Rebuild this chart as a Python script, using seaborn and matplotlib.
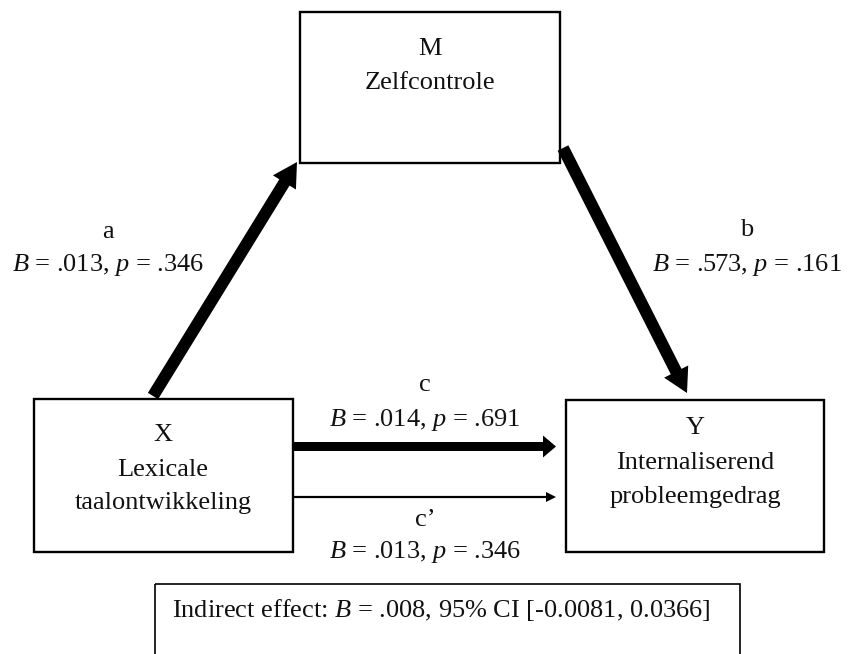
import matplotlib
matplotlib.use("Agg")
import matplotlib.pyplot as plt
import seaborn as sns
from matplotlib.patches import Rectangle, FancyArrow

# ---- data ----
node_keys = ["M", "X", "Y"]
node_names = [["Zelfcontrole"],
              ["Lexicale", "taalontwikkeling"],
              ["Internaliserend", "probleemgedrag"]]
path_labels = ["a", "b", "c", "c\u2019"]
path_B = [".013", ".573", ".014", ".013"]
path_p = [".346", ".161", ".691", ".346"]
indirect_B = ".008"
indirect_ci = ["-0.0081", "0.0366"]

sns.set_theme(style="white")
plt.rcParams["font.family"] = ["Liberation Serif", "DejaVu Serif"]
plt.rcParams["mathtext.fontset"] = "custom"
plt.rcParams["mathtext.rm"] = "Liberation Serif"
plt.rcParams["mathtext.it"] = "Liberation Serif:italic"

W, H = 848, 654
fig = plt.figure(figsize=(W / 100, H / 100), dpi=100)
ax = fig.add_axes([0, 0, 1, 1])
ax.set_xlim(0, W)
ax.set_ylim(H, 0)
ax.axis("off")

FS = 19
lw_box = 1.7

# boxes: (left, top, right, bottom)
boxes = {"M": (300, 12, 560, 163),
         "X": (34, 399, 293, 552),
         "Y": (566, 400, 824, 552)}
for key in node_keys:
    l, t, r, b = boxes[key]
    ax.add_patch(Rectangle((l, t), r - l, b - t, fill=False, ec="black", lw=lw_box))

# indirect effect box (bottom edge falls outside the picture)
ax.add_patch(Rectangle((155, 584), 585, 120, fill=False, ec="black", lw=1.2, clip_on=True))

# node labels (baselines)
node_text = {"M": (430, [55, 89]),
             "X": (163, [441, 476, 509]),
             "Y": (695, [434, 469, 503])}
for key, names in zip(node_keys, node_names):
    cx, ys = node_text[key]
    for line, y in zip([key] + names, ys):
        ax.text(cx, y, line, ha="center", va="baseline", fontsize=FS, color="#111111")

# arrows
arrows = [
    # x0, y0, x1, y1, shaft width, head width, head length
    (153, 396, 297, 162, 12, 27, 24),
    (563, 148, 687, 393, 12, 27, 24),
    (293, 446.5, 556, 446.5, 9, 22, 13),
    (293, 497, 556, 497, 2.2, 10, 10),
]
for x0, y0, x1, y1, w, hw, hl in arrows:
    ax.add_patch(FancyArrow(x0, y0, x1 - x0, y1 - y0, width=w, head_width=hw,
                            head_length=hl, length_includes_head=True,
                            color="black", lw=0))

# path labels: (x center, label baseline, stat baseline)
path_pos = [(108, 238, 271), (747, 236, 271), (425, 391, 426), (425, 526, 558)]
for lab, B, p, (cx, y1, y2) in zip(path_labels, path_B, path_p, path_pos):
    ax.text(cx, y1, lab, ha="center", va="baseline", fontsize=FS, color="#111111")
    ax.text(cx, y2, f"$B$ = {B}, $p$ = {p}", ha="center", va="baseline",
            fontsize=FS, color="#111111")

ax.text(172, 617, f"Indirect effect: $B$ = {indirect_B}, 95% CI [{indirect_ci[0]}, {indirect_ci[1]}]",
        ha="left", va="baseline", fontsize=FS, color="#111111")

fig.savefig("out.png", dpi=100, facecolor="white")
